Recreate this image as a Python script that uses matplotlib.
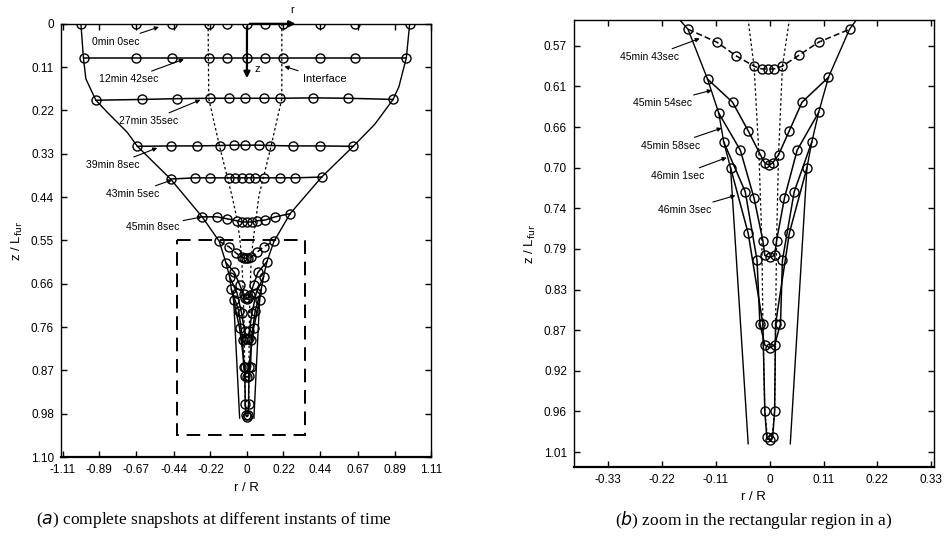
import matplotlib
matplotlib.use("Agg")
import matplotlib.pyplot as plt
from matplotlib.patches import Rectangle

plt.rcParams['font.family'] = ['Liberation Sans', 'DejaVu Sans']

################################################################
############## Snapshot data (r/R , z/Lfur) ####
r_0m00 = [-1.00, -0.67, -0.45, -0.23, -0.12, 0.00, 0.11, 0.22, 0.44, 0.65, 0.98]
z_0m00 = [0.0, 0.0, 0.0, 0.0, 0.0, 0.0, 0.0, 0.0, 0.0, 0.0, 0.0]

r_12m42 = [-0.98, -0.67, -0.45, -0.23, -0.12, 0.00, 0.11, 0.22, 0.44, 0.65, 0.96]
z_12m42 = [0.086, 0.086, 0.086, 0.086, 0.086, 0.086, 0.086, 0.086, 0.086, 0.086, 0.086]

r_27m35 = [-0.91, -0.63, -0.42, -0.22, -0.11, -0.01, 0.10, 0.20, 0.40, 0.61, 0.88]
z_27m35 = [0.194, 0.192, 0.190, 0.189, 0.189, 0.189, 0.189, 0.189, 0.188, 0.189, 0.192]

r_39m08 = [-0.66, -0.46, -0.30, -0.16, -0.08, -0.01, 0.07, 0.14, 0.28, 0.44, 0.64]
z_39m08 = [0.311, 0.310, 0.310, 0.309, 0.308, 0.308, 0.308, 0.309, 0.310, 0.310, 0.311]

r_43m05 = [-0.46, -0.31, -0.22, -0.11, -0.07, -0.03, 0.01, 0.05, 0.10, 0.20, 0.29, 0.45]
z_43m05 = [0.394, 0.391, 0.391, 0.391, 0.391, 0.391, 0.391, 0.391, 0.391, 0.391, 0.391, 0.389]

r_45m08 = [-0.27, -0.18, -0.12, -0.06, -0.03, 0.00, 0.03, 0.06, 0.11, 0.17, 0.26]
z_45m08 = [0.490, 0.490, 0.495, 0.500, 0.503, 0.503, 0.503, 0.500, 0.498, 0.490, 0.482]

r_45m43 = [-0.167, -0.108, -0.068, -0.032, -0.016, -0.004, 0.008, 0.026, 0.060, 0.100, 0.163]
z_45m43 = [0.552, 0.566, 0.581, 0.592, 0.595, 0.595, 0.595, 0.592, 0.580, 0.566, 0.552]

r_45m54 = [-0.127, -0.076, -0.044, -0.020, -0.010, -0.002, 0.006, 0.018, 0.040, 0.066, 0.120]
z_45m54 = [0.606, 0.631, 0.662, 0.687, 0.697, 0.699, 0.697, 0.688, 0.662, 0.631, 0.604]

r_45m58 = [-0.104, -0.060, -0.032, -0.014, -0.010, 0.000, 0.010, 0.014, 0.030, 0.056, 0.100]
z_45m58 = [0.643, 0.683, 0.735, 0.781, 0.797, 0.799, 0.797, 0.781, 0.735, 0.683, 0.642]

r_46m01 = [-0.094, -0.050, -0.026, -0.020, -0.010, 0.000, 0.010, 0.022, 0.026, 0.050, 0.086]
z_46m01 = [0.674, 0.728, 0.802, 0.871, 0.894, 0.897, 0.894, 0.871, 0.802, 0.728, 0.674]

r_46m03 = [-0.080, -0.044, -0.014, -0.010, -0.006, 0.000, 0.006, 0.010, 0.012, 0.040, 0.076]
z_46m03 = [0.702, 0.773, 0.871, 0.966, 0.994, 0.997, 0.994, 0.966, 0.871, 0.773, 0.702]

# path of the outer edge (no markers)
env_left_r = [-1.00, -0.985, -0.97, -0.91, -0.84, -0.72, -0.66, -0.46, -0.27, -0.167, -0.127, -0.104, -0.094, -0.080, -0.044]
env_left_z = [0.0, 0.086, 0.14, 0.194, 0.225, 0.276, 0.311, 0.394, 0.490, 0.552, 0.606, 0.643, 0.674, 0.702, 1.001]
env_right_r = [0.98, 0.96, 0.915, 0.88, 0.77, 0.64, 0.45, 0.26, 0.163, 0.120, 0.100, 0.086, 0.076, 0.042]
env_right_z = [0.0, 0.086, 0.16, 0.192, 0.255, 0.311, 0.389, 0.482, 0.552, 0.604, 0.642, 0.674, 0.702, 1.001]

# interface (dotted)
if_left_r = [-0.234, -0.230, -0.165, -0.090, -0.060, -0.044, -0.032, -0.022, -0.016, -0.014, -0.010, -0.004]
if_left_z = [0.0, 0.190, 0.311, 0.437, 0.495, 0.542, 0.592, 0.688, 0.782, 0.871, 0.966, 0.997]
if_right_r = [0.210, 0.210, 0.145, 0.072, 0.054, 0.040, 0.026, 0.018, 0.014, 0.012, 0.010, 0.004]
if_right_z = [0.0, 0.190, 0.311, 0.437, 0.495, 0.542, 0.592, 0.688, 0.782, 0.871, 0.966, 0.997]

snapshots = [(r_0m00, z_0m00, '-'), (r_12m42, z_12m42, '-'), (r_27m35, z_27m35, '-'),
             (r_39m08, z_39m08, '-'), (r_43m05, z_43m05, '-'), (r_45m08, z_45m08, '-'),
             (r_45m43, z_45m43, (0, (4, 2))), (r_45m54, z_45m54, '-'), (r_45m58, z_45m58, '-'),
             (r_46m01, z_46m01, '-'), (r_46m03, z_46m03, '-')]

# ticks / labels
xt_a = [-1.11, -0.89, -0.67, -0.44, -0.22, 0, 0.22, 0.44, 0.67, 0.89, 1.11]
xl_a = ['-1.11', '-0.89', '-0.67', '-0.44', '-0.22', '0', '0.22', '0.44', '0.67', '0.89', '1.11']
yt_a = [0, 0.11, 0.22, 0.33, 0.44, 0.55, 0.66, 0.77, 0.88, 0.99, 1.10]
yl_a = ['0', '0.11', '0.22', '0.33', '0.44', '0.55', '0.66', '0.76', '0.87', '0.98', '1.10']
xt_b = [-0.33, -0.22, -0.11, 0, 0.11, 0.22, 0.33]
xl_b = ['-0.33', '-0.22', '-0.11', '0', '0.11', '0.22', '0.33']
yt_b = [0.570, 0.614, 0.658, 0.702, 0.746, 0.790, 0.834, 0.878, 0.922, 0.966, 1.010]
yl_b = ['0.57', '0.61', '0.66', '0.70', '0.74', '0.79', '0.83', '0.87', '0.92', '0.96', '1.01']

labels_a = [('0min 0sec', (-0.79, 0.045), (-0.53, 0.008)),
            ('12min 42sec', (-0.71, 0.141), (-0.38, 0.090)),
            ('27min 35sec', (-0.59, 0.247), (-0.28, 0.193)),
            ('39min 8sec', (-0.81, 0.359), (-0.54, 0.315)),
            ('43min 5sec', (-0.69, 0.432), (-0.45, 0.396)),
            ('45min 8sec', (-0.57, 0.515), (-0.27, 0.490))]
labels_b = [('45min 43sec', (-0.245, 0.582), (-0.143, 0.562)),
            ('45min 54sec', (-0.219, 0.632), (-0.118, 0.618)),
            ('45min 58sec', (-0.203, 0.678), (-0.098, 0.659)),
            ('46min 1sec', (-0.189, 0.711), (-0.088, 0.691)),
            ('46min 3sec', (-0.173, 0.748), (-0.070, 0.732))]


def draw_all(ax):
    ax.plot(env_left_r, env_left_z, color='k', lw=1.0)
    ax.plot(env_right_r, env_right_z, color='k', lw=1.0)
    ax.plot(if_left_r, if_left_z, color='k', lw=0.9, ls=(0, (2, 2)))
    ax.plot(if_right_r, if_right_z, color='k', lw=0.9, ls=(0, (2, 2)))
    for r, z, ls in snapshots:
        ax.plot(r, z, color='k', lw=1.1, ls=ls, marker='o', mfc='none',
                mec='k', ms=6.5, mew=1.0)


def style(ax, xt, xl, yt, yl):
    ax.set_xticks(xt)
    ax.set_xticklabels(xl)
    ax.set_yticks(yt)
    ax.set_yticklabels(yl)
    ax.tick_params(direction='in', top=True, right=True, length=4,
                   labelsize=8.5, width=1.0, pad=5)
    for s in ax.spines.values():
        s.set_linewidth(1.0)
    ax.spines['bottom'].set_linewidth(1.6)
    ax.set_xlabel('r / R', fontsize=9.5, labelpad=4)
    ax.set_ylabel(r'z / L$_{\mathrm{fur}}$', fontsize=9.5, labelpad=4)


def main():
    fig = plt.figure(figsize=(9.47, 5.41), dpi=100)

    ###########################################################
    ############## (a) complete snapshots #####################
    ax1 = fig.add_axes([0.0644, 0.155, 0.391, 0.801])
    draw_all(ax1)
    ax1.add_patch(Rectangle((-0.42, 0.55), 0.77, 0.495, fill=False,
                            ec='k', lw=1.4, ls=(0, (7, 4))))
    # r / z axis arrows
    ax1.annotate('', xy=(0.31, 0.0), xytext=(0.0, 0.0),
                 arrowprops=dict(arrowstyle='-|>', color='k', lw=1.6, mutation_scale=9))
    ax1.annotate('', xy=(0.0, 0.145), xytext=(0.0, 0.0),
                 arrowprops=dict(arrowstyle='-|>', color='k', lw=1.6, mutation_scale=9))
    ax1.text(0.27, -0.035, 'r', fontsize=8, ha='center', va='center')
    ax1.text(0.06, 0.115, 'z', fontsize=8, ha='center', va='center')
    ax1.annotate('Interface', xy=(0.21, 0.106), xytext=(0.34, 0.141),
                 fontsize=8, ha='left', va='center',
                 arrowprops=dict(arrowstyle='-|>', color='k', lw=0.8, mutation_scale=6))
    for txt, pos, tip in labels_a:
        ax1.annotate(txt, xy=tip, xytext=pos, fontsize=7.5, ha='center', va='center',
                     arrowprops=dict(arrowstyle='-|>', color='k', lw=0.8,
                                     mutation_scale=6, shrinkA=1, shrinkB=0))
    ax1.set_xlim(-1.12, 1.11)
    ax1.set_ylim(1.10, 0.0)
    style(ax1, xt_a, xl_a, yt_a, yl_a)

    ###########################################################
    ############## (b) zoom ###################################
    ax2 = fig.add_axes([0.606, 0.137, 0.380, 0.826])
    draw_all(ax2)
    for txt, pos, tip in labels_b:
        ax2.annotate(txt, xy=tip, xytext=pos, fontsize=7.5, ha='center', va='center',
                     arrowprops=dict(arrowstyle='-|>', color='k', lw=0.8,
                                     mutation_scale=6, shrinkA=1, shrinkB=0))
    ax2.set_xlim(-0.40, 0.335)
    ax2.set_ylim(1.026, 0.542)
    style(ax2, xt_b, xl_b, yt_b, yl_b)

    # captions
    fig.text(0.226, 0.039, r'($\it{a}$) complete snapshots at different instants of time',
             family='Liberation Serif', fontsize=12.5, ha='center', va='center')
    fig.text(0.796, 0.039, r'($\it{b}$) zoom in the rectangular region in a)',
             family='Liberation Serif', fontsize=12.5, ha='center', va='center')

    fig.savefig('out.png', dpi=100)
    return


if __name__ == '__main__':
    main()
